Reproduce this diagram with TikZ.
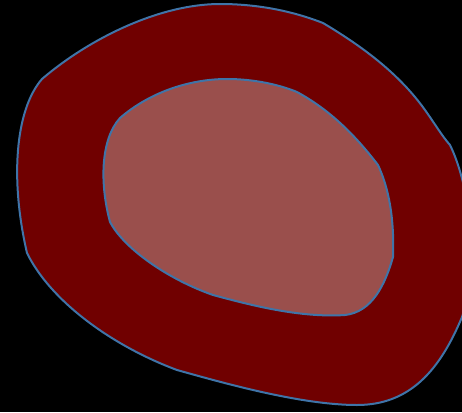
\documentclass[tikz,border=0pt]{standalone}
\definecolor{outerred}{HTML}{700000}
\definecolor{innerred}{HTML}{9A4F4C}
\definecolor{edgeblue}{HTML}{3F74A8}
\begin{document}
\begin{tikzpicture}[x=1pt,y=-1pt,
  blob/.style={draw=edgeblue,line width=2pt,line join=round}]
\fill[black] (0,0) rectangle (462,412);
\useasboundingbox (0,0) rectangle (462,412);
\begin{scope}
\clip (0,0) rectangle (462,412);
\path[blob,fill=outerred] (42,79)
  .. controls (90,38) and (160,4) .. (220,4)
  .. controls (265,4) and (300,14) .. (323,23)
  .. controls (365,48) and (400,75) .. (425,110)
  .. controls (435,124) and (442,136) .. (450,145)
  .. controls (472,190) and (478,270) .. (462,317)
  .. controls (440,370) and (410,405) .. (357,405)
  .. controls (300,405) and (220,382) .. (177,370)
  .. controls (110,345) and (50,300) .. (27,253)
  .. controls (10,180) and (15,110) .. cycle;
\path[blob,fill=innerred] (120,118)
  .. controls (150,92) and (190,79) .. (227,79)
  .. controls (255,79) and (280,85) .. (297,92)
  .. controls (330,110) and (355,135) .. (378,165)
  .. controls (392,195) and (394,230) .. (393,257)
  .. controls (385,285) and (372,312) .. (345,315)
  .. controls (300,318) and (250,305) .. (213,295)
  .. controls (170,280) and (125,250) .. (110,222)
  .. controls (100,185) and (100,140) .. cycle;
\end{scope}
\end{tikzpicture}
\end{document}
